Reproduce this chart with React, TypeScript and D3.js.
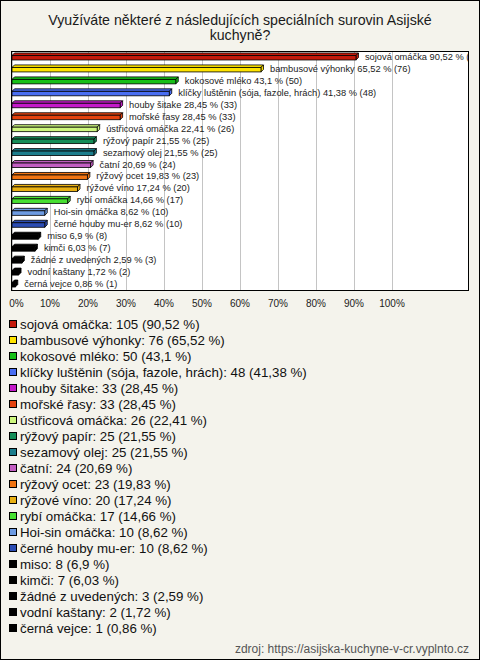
import React from "react";
import * as d3 from "d3";

const categories = [
  "sojová omáčka",
  "bambusové výhonky",
  "kokosové mléko",
  "klíčky luštěnin (sója, fazole, hrách)",
  "houby šitake",
  "mořské řasy",
  "ústřicová omáčka",
  "rýžový papír",
  "sezamový olej",
  "čatní",
  "rýžový ocet",
  "rýžové víno",
  "rybí omáčka",
  "Hoi-sin omáčka",
  "černé houby mu-er",
  "miso",
  "kimči",
  "žádné z uvedených",
  "vodní kaštany",
  "černá vejce",
];
const counts = [105, 76, 50, 48, 33, 33, 26, 25, 25, 24, 23, 20, 17, 10, 10, 8, 7, 3, 2, 1];
const percents = [90.52, 65.52, 43.1, 41.38, 28.45, 28.45, 22.41, 21.55, 21.55, 20.69, 19.83, 17.24, 14.66, 8.62, 8.62, 6.9, 6.03, 2.59, 1.72, 0.86];
const colors = [
  "#c4190b", "#ffe400", "#17c017", "#4a6ef2", "#c419c9", "#e3420f", "#cdf77e",
  "#148d58", "#1b7d8c", "#c25ec2", "#f07412", "#e8b012", "#47e032", "#6d9be2",
  "#2b4cb3", "#000000", "#000000", "#000000", "#000000", "#000000",
];
const tickValues = [0, 10, 20, 30, 40, 50, 60, 70, 80, 90, 100];
const titleLines = ["Využíváte některé z následujících speciálních surovin Asijské", "kuchyně?"];
const source = "zdroj: https://asijska-kuchyne-v-cr.vyplnto.cz";

const fmt = (v: number) => String(v).replace(".", ",");

export default function App() {
  const W = 480, H = 660;
  const plotLeft = 11, plotRight = 468, plotTop = 51, plotBottom = 290;
  const x = d3.scaleLinear().domain([0, 120]).range([plotLeft + 1, plotRight]);
  const y = d3.scaleBand().domain(categories).range([plotTop, plotBottom]);
  const ly = d3.scaleBand().domain(categories).range([316, 636]);
  const depth = 2.5;
  const font = "Arial, 'Liberation Sans', sans-serif";

  return (
    <svg width={W} height={H} style={{ position: "absolute", left: 0, top: 0 }} fontFamily={font}>
      <defs>
        <clipPath id="plotClip">
          <rect x={plotLeft} y={plotTop - 5} width={plotRight - plotLeft} height={plotBottom - plotTop + 5} />
        </clipPath>
      </defs>
      <rect x={0.5} y={0.5} width={W - 1} height={H - 1} fill="#f4f3ec" stroke="#000" strokeWidth={1} />
      {titleLines.map((t, i) => (
        <text key={i} x={W / 2} y={20 + i * 15} textAnchor="middle" dominantBaseline="central" fontSize={14.2} fill="#1a1a1a">
          {t}
        </text>
      ))}
      <rect x={plotLeft + 0.5} y={plotTop + 0.5} width={plotRight - plotLeft} height={plotBottom - plotTop} fill="#fff" />
      {tickValues.map((v) => (
        <line key={v} x1={Math.round(x(v)) + 0.5} x2={Math.round(x(v)) + 0.5} y1={plotTop} y2={plotBottom} stroke="#c4c4c4" strokeWidth={1} />
      ))}
      <g clipPath="url(#plotClip)">
        {categories.map((c, i) => {
          const cy = (y(c) as number) + y.bandwidth() / 2;
          const x0 = x(0);
          const x1 = x(percents[i]);
          const y0 = cy - 1.5;
          const y1 = cy + 3;
          const col = colors[i];
          const top = `${x0},${y0} ${x0 + depth},${y0 - depth} ${x1 + depth},${y0 - depth} ${x1},${y0}`;
          const side = `${x1},${y0} ${x1 + depth},${y0 - depth} ${x1 + depth},${y1 - depth} ${x1},${y1}`;
          return (
            <g key={c}>
              <polygon points={top} fill={col} stroke="#000" strokeWidth={0.8} />
              <polygon points={side} fill={col} stroke="#000" strokeWidth={0.8} />
              <rect x={x0} y={y0} width={x1 - x0} height={y1 - y0} fill={col} stroke="#000" strokeWidth={0.8} />
              <text x={x1 + 9} y={cy} dominantBaseline="central" fontSize={9.3} fill="#222">
                {`${c} ${fmt(percents[i])} % (${counts[i]})`}
              </text>
            </g>
          );
        })}
      </g>
      <rect x={plotLeft + 0.5} y={plotTop + 0.5} width={plotRight - plotLeft} height={plotBottom - plotTop} fill="none" stroke="#000" strokeWidth={1} />
      {tickValues.map((v, i) => (
        <text key={v} x={x(v) + (i === 0 ? 4.5 : 0)} y={303} textAnchor="middle" dominantBaseline="central" fontSize={10} fill="#222">
          {`${v}%`}
        </text>
      ))}
      {categories.map((c, i) => {
        const cy = (ly(c) as number) + ly.bandwidth() / 2;
        return (
          <g key={c}>
            <rect x={9.5} y={cy - 3.5} width={7} height={7} fill={colors[i]} stroke="#000" strokeWidth={1} />
            <text x={20} y={cy} dominantBaseline="central" fontSize={13.3} fill="#111">
              {`${c}: ${counts[i]} (${fmt(percents[i])} %)`}
            </text>
          </g>
        );
      })}
      <text x={469} y={649} textAnchor="end" dominantBaseline="central" fontSize={12} fill="#555">
        {source}
      </text>
    </svg>
  );
}
